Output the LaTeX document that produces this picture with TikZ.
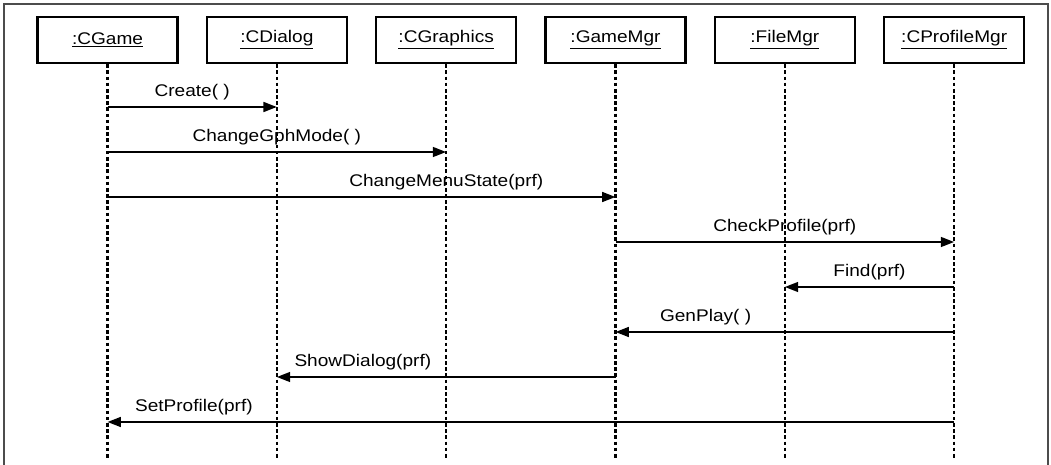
\documentclass[tikz,border=0pt]{standalone}
\usepackage{fontspec}
\setmainfont{Liberation Sans}[FakeStretch=1.13]
\usetikzlibrary{arrows.meta, positioning}
\tikzset{
    font=\fontsize{12}{14}\selectfont,
    >={Triangle[length=9.5pt, width=7pt]},
    % Shapes
    obj/.style={rectangle, draw, line width=1.6pt,
                minimum width=3.5cm, minimum height=1.15cm, inner sep=0pt},
    % Lines & Labels
    life/.style={line width=1.5pt, dash pattern=on 2.6pt off 1.8pt},
    msg/.style={->, line width=1.4pt},
    lbl/.style={above=0.14cm, inner sep=0pt},
    frame/.style={draw=black!70, line width=1pt}
}

\begin{document}
\begin{tikzpicture}[x=0.025cm, y=-0.025cm]
\useasboundingbox (0,0) rectangle (1051,465);
\draw[frame] (4,465) -- (4,4) -- (1048,4) -- (1048,465);

% objects
\node[obj] (game) at (107.5,40) {\underline{:CGame}};
\node[obj, right=0.676cm of game] (dialog) {\underline{:CDialog}};
\node[obj, right=0.676cm of dialog] (graphics) {\underline{:CGraphics}};
\node[obj, right=0.676cm of graphics] (gamemgr) {\underline{:GameMgr}};
\node[obj, right=0.676cm of gamemgr] (filemgr) {\underline{:FileMgr}};
\node[obj, right=0.676cm of filemgr] (profile) {\underline{:CProfileMgr}};

% lifelines
\coordinate (bottom) at (0,460);
\foreach \o in {game,dialog,graphics,gamemgr,filemgr,profile}
    \draw[life] (\o.south) -- (\o |- bottom);

% message rows
\foreach \i in {1,...,8}
    \coordinate (m\i) at (0,{62+45*\i});

\draw[msg] (game |- m1) -- node[lbl] {Create( )} (dialog |- m1);
\draw[msg] (game |- m2) -- node[lbl] {ChangeGphMode( )} (graphics |- m2);
\draw[msg] (game |- m3) -- node[lbl, pos=0.667] {ChangeMenuState(prf)} (gamemgr |- m3);
\draw[msg] (gamemgr |- m4) -- node[lbl] {CheckProfile(prf)} (profile |- m4);
\draw[msg] (profile |- m5) -- node[lbl] {Find(prf)} (filemgr |- m5);
\draw[msg] (profile |- m6) -- node[lbl, pos=0.734] {GenPlay( )} (gamemgr |- m6);
\draw[msg] (gamemgr |- m7) -- node[lbl, pos=0.746] {ShowDialog(prf)} (dialog |- m7);
\draw[msg] (profile |- m8) -- node[lbl, pos=0.898] {SetProfile(prf)} (game |- m8);

\end{tikzpicture}
\end{document}
